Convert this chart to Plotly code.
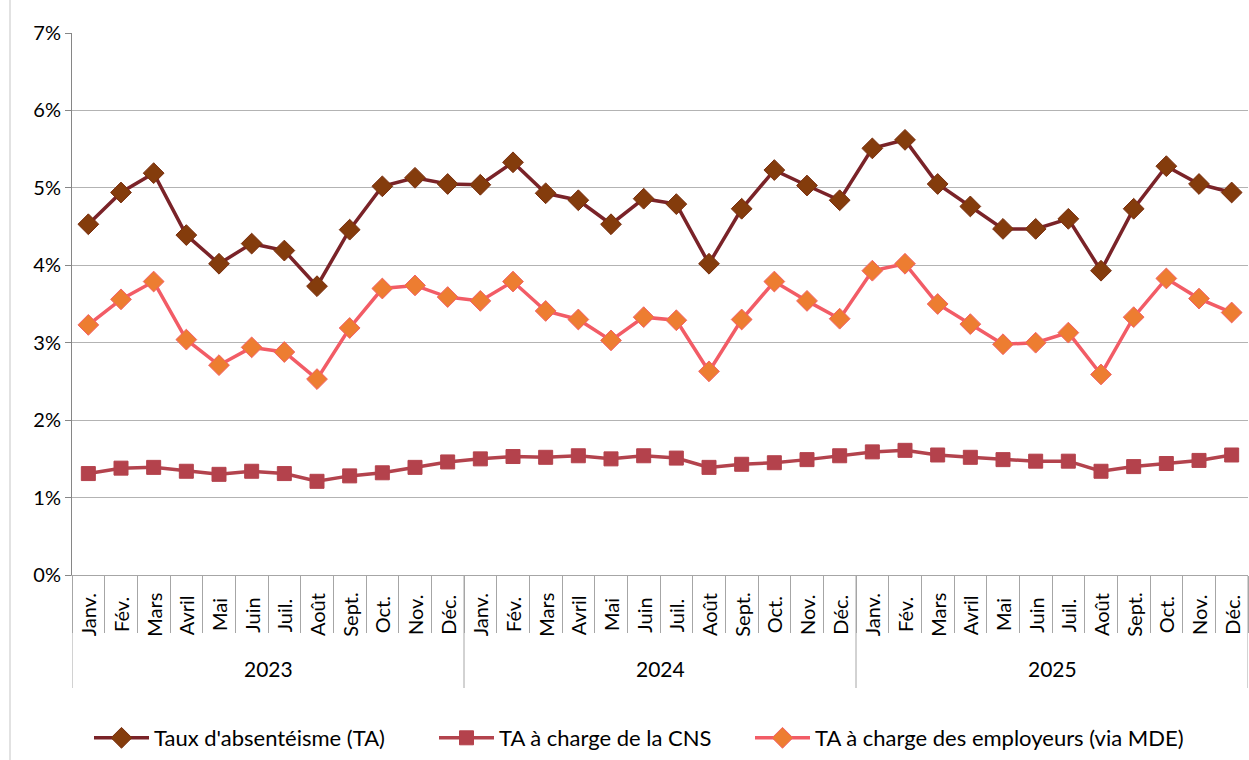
import plotly.graph_objects as go

years = ["2023", "2024", "2025"]
months = ["Janv.", "Fév.", "Mars", "Avril", "Mai", "Juin", "Juil.", "Août", "Sept.", "Oct.", "Nov.", "Déc."]

ta_total = [4.53, 4.94, 5.19, 4.39, 4.02, 4.28, 4.19, 3.73, 4.46, 5.02, 5.13, 5.05,
            5.04, 5.33, 4.93, 4.84, 4.53, 4.86, 4.79, 4.02, 4.73, 5.23, 5.03, 4.84,
            5.51, 5.62, 5.05, 4.76, 4.47, 4.47, 4.60, 3.93, 4.73, 5.28, 5.05, 4.94]
ta_cns = [1.31, 1.38, 1.39, 1.34, 1.30, 1.34, 1.31, 1.21, 1.28, 1.32, 1.39, 1.46,
          1.50, 1.53, 1.52, 1.54, 1.50, 1.54, 1.51, 1.39, 1.43, 1.45, 1.49, 1.54,
          1.59, 1.61, 1.55, 1.52, 1.49, 1.47, 1.47, 1.34, 1.40, 1.44, 1.48, 1.55]
ta_mde = [3.23, 3.56, 3.79, 3.04, 2.71, 2.94, 2.88, 2.53, 3.19, 3.70, 3.74, 3.59,
          3.54, 3.79, 3.41, 3.30, 3.03, 3.33, 3.29, 2.63, 3.30, 3.79, 3.54, 3.31,
          3.93, 4.02, 3.50, 3.24, 2.98, 3.00, 3.13, 2.59, 3.33, 3.83, 3.57, 3.39]
y_ticks = [0, 1, 2, 3, 4, 5, 6, 7]

n = len(years) * len(months)
xs = list(range(n))
labels = [m for _ in years for m in months]

FONT = "Lato"
fig = go.Figure()
fig.add_trace(go.Scatter(
    x=xs, y=ta_total, mode="lines+markers", name="Taux d'absentéisme (TA)",
    line=dict(color="#7A2328", width=3.5),
    marker=dict(symbol="diamond", size=16, color="#843C0C", line=dict(color="#7A2E10", width=1)),
    legend="legend",
))
fig.add_trace(go.Scatter(
    x=xs, y=ta_cns, mode="lines+markers", name="TA à charge de la CNS",
    line=dict(color="#B3434D", width=3.5),
    marker=dict(symbol="square", size=14, color="#B4424C", line=dict(color="#B4424C", width=1)),
    legend="legend2",
))
fig.add_trace(go.Scatter(
    x=xs, y=ta_mde, mode="lines+markers", name="TA à charge des employeurs (via MDE)",
    line=dict(color="#F25C66", width=3.5),
    marker=dict(symbol="diamond", size=16, color="#ED7D31", line=dict(color="#F4606A", width=1)),
    legend="legend3",
))

W, H = 1249, 760
L, R, T, B = 72, 1, 33, 185
plot_w = W - L - R
plot_h = H - T - B

def py(px):
    return -(px - (H - B)) / plot_h

def px_x(px):
    return (px - L) / plot_w

annotations = []
for i, lab in enumerate(labels):
    annotations.append(dict(
        x=i, xref="x", y=py(615), yref="paper", text=lab, showarrow=False,
        textangle=-90, xanchor="center", yanchor="middle",
        font=dict(family=FONT, size=20, color="#000000"),
    ))
for j, yr in enumerate(years):
    annotations.append(dict(
        x=j * 12 + 5.5, xref="x", y=py(668), yref="paper", text=yr, showarrow=False,
        xanchor="center", yanchor="middle",
        font=dict(family=FONT, size=21, color="#000000"),
    ))

shapes = []
for j in range(len(years) + 1):
    shapes.append(dict(
        type="line", xref="x", yref="paper", x0=j * 12 - 0.5, x1=j * 12 - 0.5,
        y0=0, y1=py(688), line=dict(color="#A6A6A6", width=1),
    ))
# chart area border (left)
shapes.append(dict(type="line", xref="paper", yref="paper",
                   x0=px_x(10), x1=px_x(10), y0=py(0), y1=py(760),
                   line=dict(color="#D9D9D9", width=1.5)))

def leg(px_left):
    return dict(orientation="h", x=px_x(px_left), xanchor="left", y=py(738), yanchor="middle",
                font=dict(family=FONT, size=22, color="#000000"),
                itemwidth=55, bgcolor="rgba(0,0,0,0)")

fig.update_layout(
    width=W, height=H,
    margin=dict(l=L, r=R, t=T, b=B),
    paper_bgcolor="white", plot_bgcolor="white",
    font=dict(family=FONT, size=20, color="#000000"),
    showlegend=True,
    legend=leg(89),
    legend2=leg(434),
    legend3=leg(750),
    annotations=annotations,
    shapes=shapes,
)
fig.update_xaxes(
    range=[-0.5, n - 0.5], showgrid=False, zeroline=False,
    showticklabels=False, ticks="",
    showline=True, linecolor="#A6A6A6", linewidth=1,
    minor=dict(tickmode="array", tickvals=[k - 0.5 for k in range(n + 1)],
               ticks="outside", ticklen=57, tickcolor="#A6A6A6", tickwidth=1),
)
fig.update_yaxes(
    range=[0, 7], tickvals=y_ticks, ticktext=[f"{v}%" for v in y_ticks],
    showgrid=True, gridcolor="#B3B3B3", gridwidth=1, zeroline=False,
    showline=True, linecolor="#868686", linewidth=1,
    ticks="outside", ticklen=6, tickcolor="#868686",
    tickfont=dict(family=FONT, size=20, color="#000000"),
)

fig.write_html("out.html", config={"displayModeBar": False},
               post_script="document.body.style.margin='0px';")
